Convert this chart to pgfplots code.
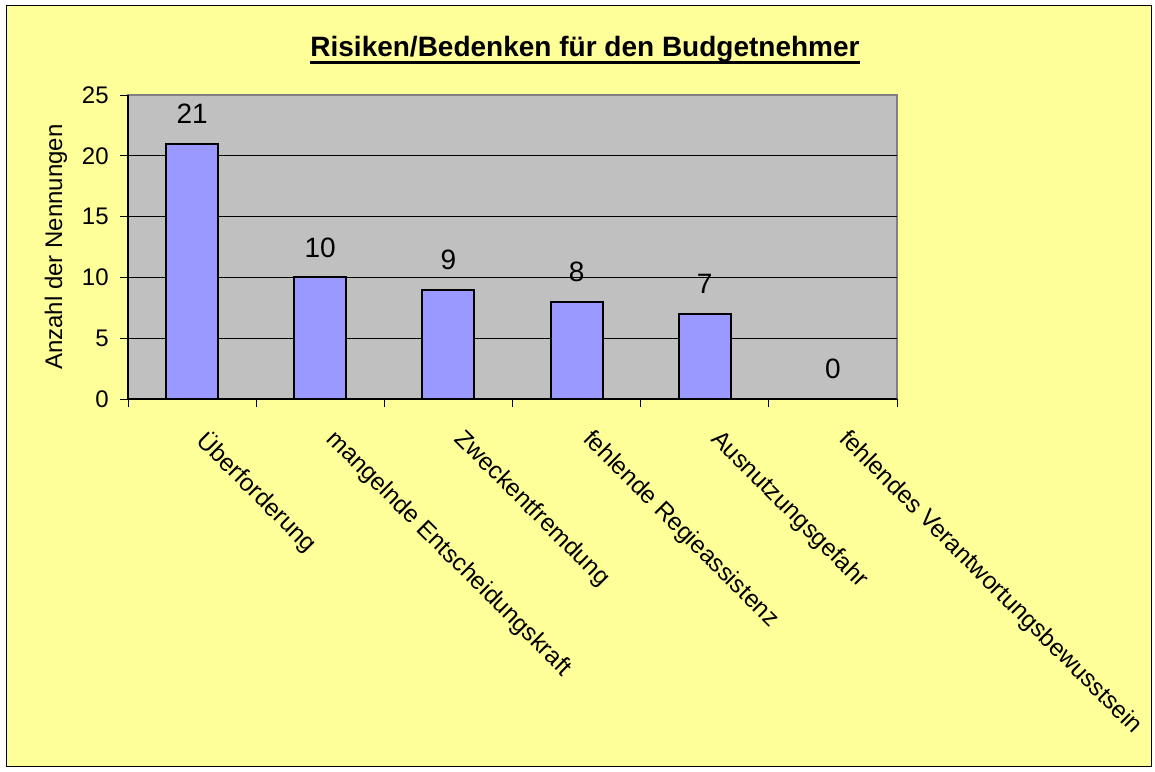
\documentclass[border=0pt]{standalone}
\usepackage{pgfplots}
\pgfplotsset{compat=1.18}
\usepackage{fontspec}
\setmainfont{Liberation Sans}
\definecolor{chartyellow}{HTML}{FFFF99}
\definecolor{plotgray}{HTML}{C0C0C0}
\definecolor{barblue}{HTML}{9999FF}
\definecolor{edgegray}{HTML}{808080}
\newcommand{\tickfont}{\fontsize{12}{14}\selectfont}
\newcommand{\catfont}{\fontsize{12.2}{14}\selectfont}
\newcommand{\valfont}{\fontsize{14}{16}\selectfont}

\begin{document}
\begin{tikzpicture}
\useasboundingbox (0,0) rectangle (577.5pt,385.5pt);
\fill[white] (0,0) rectangle (577.5pt,385.5pt);
\draw[fill=chartyellow, line width=0.5pt] (3pt,2.5pt) rectangle (575.5pt,382.5pt);
% title with underline
\node[font=\fontsize{14}{16}\selectfont\bfseries, anchor=base, inner sep=0pt] (t) at (292.5pt,357.2pt)
    {Risiken/Bedenken für den Budgetnehmer};
\draw[line width=1.5pt] ([yshift=-3pt]t.base west) -- ([yshift=-3pt]t.base east);
\begin{axis}[
    at={(64pt,186pt)}, anchor=south west,
    scale only axis, width=384.5pt, height=152pt,
    xmin=0, xmax=6, ymin=0, ymax=25,
    axis x line*=bottom, axis y line*=left,
    axis line style={black, line width=0.6pt, -},
    axis background/.style={fill=plotgray, draw=edgegray, line width=0.6pt},
    tick align=outside, major tick length=4pt,
    tick style={black, line width=0.5pt},
    /pgf/number format/assume math mode=true,
    xtick={0,...,6},
    x tick label as interval,
    xticklabels={Überforderung, mangelnde Entscheidungskraft, Zweckentfremdung,
        fehlende Regieassistenz, Ausnutzungsgefahr, fehlendes Verantwortungsbewusstsein},
    xticklabel style={font=\catfont, inner sep=0pt, xshift=9pt, yshift=-10pt,
        rotate=-45, anchor=north west},
    ytick={0,5,10,15,20},
    extra y ticks={25},
    extra y tick style={ymajorgrids=false},
    yticklabel style={font=\tickfont, inner sep=0pt, xshift=-5.5pt},
    ymajorgrids,
    major grid style={black, line width=0.5pt},
    ylabel={Anzahl der Nennungen},
    ylabel style={font=\tickfont, at={(axis description cs:-0.0936,0.5)}, anchor=center},
]
\addplot[ybar, bar width=26pt, fill=barblue, draw=black, line width=1pt,
    nodes near coords,
    every node near coord/.append style={font=\valfont, anchor=south, inner sep=0pt,
        yshift=9.5pt, text=black}]
    coordinates {(0.5,21) (1.5,10) (2.5,9) (3.5,8) (4.5,7) (5.5,0)};
\end{axis}
\end{tikzpicture}
\end{document}
